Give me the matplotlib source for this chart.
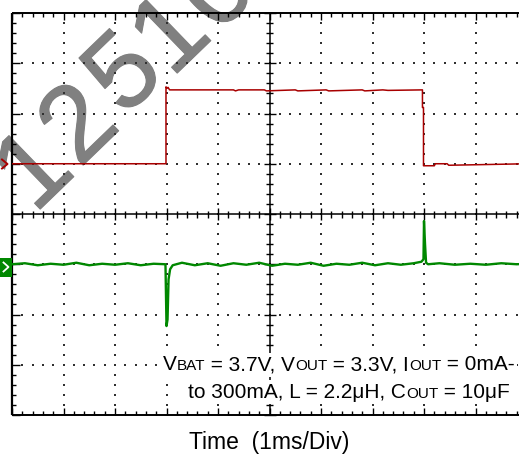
import numpy as np
import matplotlib
matplotlib.use("Agg")
import matplotlib.pyplot as plt
import matplotlib.patheffects as pe
from matplotlib.collections import LineCollection
from matplotlib.offsetbox import TextArea, HPacker, AnnotationBbox
from matplotlib.patches import Rectangle

# ---------------- data (in scope divisions) ----------------
red_t = [0.00, 2.99, 2.99, 3.01, 3.03, 3.06, 3.20, 4.30, 4.34, 4.40, 4.90, 4.94,
         5.50, 5.55, 6.10, 6.15, 6.80, 6.85, 7.20, 7.30, 7.97, 7.97, 7.99, 7.99,
         8.20, 8.22, 8.30, 8.45, 8.48, 10.00]
red_v = [1.00, 1.00, 2.53, 2.50, 2.52, 2.47, 2.47, 2.47, 2.45, 2.47, 2.47, 2.45,
         2.47, 2.45, 2.47, 2.45, 2.47, 2.45, 2.47, 2.46, 2.47, 2.12, 2.12, 0.96,
         0.96, 1.00, 1.00, 1.00, 0.97, 1.00]

green_t = [0.00, 0.25, 0.50, 0.75, 1.00, 1.25, 1.50, 1.75, 2.00, 2.25, 2.50, 2.75,
           2.98, 3.00, 3.02, 3.04, 3.07, 3.12, 3.30, 3.55, 3.80, 4.05, 4.30, 4.55,
           4.80, 5.05, 5.30, 5.55, 5.80, 6.05, 6.30, 6.55, 6.80, 7.05, 7.30, 7.55,
           7.80, 7.95, 7.99, 8.00, 8.02, 8.04, 8.08, 8.30, 8.60, 8.90, 9.20, 9.50,
           9.80, 10.00]
green_v = [-1.00, -0.98, -1.02, -0.99, -1.01, -0.97, -1.02, -0.99, -1.01, -0.98, -1.02, -0.99,
           -1.00, -2.23, -2.10, -1.30, -1.10, -1.02, -0.97, -1.02, -0.98, -1.03, -0.98, -1.01,
           -0.97, -1.03, -0.99, -1.01, -0.97, -1.03, -0.99, -1.01, -0.97, -1.02, -0.98, -1.01,
           -0.98, -0.95, -0.90, -0.14, -0.60, -0.97, -1.00, -0.98, -1.01, -0.99, -1.01, -0.98,
           -1.00, -0.99]

annot_line1 = [("V", "big"), ("BAT", "small"), (" = 3.7V, V", "big"), ("OUT", "small"),
               (" = 3.3V, I", "big"), ("OUT", "small"), (" = 0mA-", "big")]
annot_line2 = [("to 300mA, L = 2.2\u03bcH, C", "big"), ("OUT", "small"), (" = 10\u03bcF", "big")]
xlabel_text = "Time  (1ms/Div)"
watermark_chars = ["1", "2", "5", "1", "0"]

# ---------------- figure ----------------
W, H = 519, 455
FONT = "Liberation Sans"
fig = plt.figure(figsize=(W / 100, H / 100), dpi=100)
fig.patch.set_facecolor("white")
ax = fig.add_axes([12 / W, 40 / H, 515 / W, 402 / H])
ax.set_xlim(0, 10)
ax.set_ylim(-4, 4)
ax.set_axis_off()

kx = 10 / 515.0   # data units per pixel (x)
ky = 8 / 402.0    # data units per pixel (y)

# watermark (behind everything), one glyph per position along a 44 degree baseline
wm_fs = 78
wm_rot = 44
em = wm_fs * 100 / 72.0
ang = np.deg2rad(wm_rot)
up = np.array([-np.sin(ang), np.cos(ang)])          # text "up" in figure pixels (y up)
wm_centers = [(29, 166), (74, 120), (119, 69), (166, 30), (212, -14)]  # top-left pixel coords
for ch, (cx, cy) in zip(watermark_chars, wm_centers):
    c = np.array([cx, H - cy], dtype=float)
    b = c - 0.358 * em * up
    ax.text(b[0] / W, b[1] / H, ch, transform=fig.transFigure, rotation=wm_rot,
            rotation_mode="anchor", ha="center", va="baseline", fontsize=wm_fs,
            color="#808080", family=FONT, zorder=0.5, clip_on=False,
            path_effects=[pe.withStroke(linewidth=0.8, foreground="#808080")])

# grid dots
gx, gy = [], []
for xv in range(1, 10):
    if xv == 5:
        continue
    for j in range(1, 40):
        gx.append(xv); gy.append(-4 + j * 0.2)
for yv in range(-3, 4):
    if yv == 0:
        continue
    for i in range(1, 50):
        gx.append(i * 0.2); gy.append(yv)
ax.scatter(gx, gy, s=1.3, marker="s", color="#303030", linewidths=0, zorder=1)

# frame and center axes
frame_kw = dict(color="black", clip_on=False, zorder=3, solid_capstyle="butt")
ax.plot([0, 0], [-4, 4], lw=1.6, **frame_kw)
ax.plot([0, 10.2], [4, 4], lw=1.4, **frame_kw)
ax.plot([0, 10.2], [-4, -4], lw=1.4, **frame_kw)
ax.plot([5, 5], [-4, 4], lw=1.1, **frame_kw)
ax.plot([0, 10.2], [0, 0], lw=1.1, **frame_kw)

segs = []
for i in range(0, 51):
    t = i * 0.2
    major = (i % 5 == 0)
    L = (7 if major else 4) * ky
    segs.append([(t, 4), (t, 4 - L)])
    segs.append([(t, -4), (t, -4 + L)])
    Lc = (6 if major else 3.5) * ky
    segs.append([(t, -Lc), (t, Lc)])
for j in range(0, 41):
    y = -4 + j * 0.2
    major = (j % 5 == 0)
    L = (8 if major else 4) * kx
    segs.append([(0, y), (L, y)])
    Lc = (6 if major else 3.5) * kx
    segs.append([(5 - Lc, y), (5 + Lc, y)])
ax.add_collection(LineCollection(segs, colors="black", linewidths=1.0, zorder=3, clip_on=False))

# traces
ax.plot(red_t, red_v, color="#a80000", lw=1.1, zorder=4)
ax.plot(green_t, green_v, color="#008800", lw=1.7, zorder=4)

# channel markers at left
def fx(px):
    return px / W
def fy(py):
    return 1 - py / H

fig.add_artist(plt.Line2D([fx(2), fx(7.5), fx(2)], [fy(159.5), fy(164), fy(168.5)],
                          color="#a80000", lw=1.4))
fig.add_artist(Rectangle((fx(0), fy(277)), fx(12), 19 / H, facecolor="#008800",
                         edgecolor="none"))
fig.add_artist(plt.Line2D([fx(3.5), fx(8.5), fx(3.5)], [fy(262.5), fy(267), fy(271.5)],
                          color="white", lw=1.3))

# annotation
sizes = {"big": 15, "small": 11}
def rich_line(parts, xy_px):
    boxes = [TextArea(s, textprops=dict(fontsize=sizes[k], family=FONT, color="black"))
             for s, k in parts]
    pack = HPacker(children=boxes, align="baseline", pad=0, sep=0)
    ab = AnnotationBbox(pack, (xy_px[0], H - xy_px[1]), xycoords="figure pixels",
                        box_alignment=(1, 0.5), frameon=True, pad=0.15,
                        bboxprops=dict(facecolor="white", edgecolor="none"))
    ab.set_zorder(5)
    fig.add_artist(ab)

rich_line(annot_line1, (515, 365))
rich_line(annot_line2, (510, 392))

fig.text(269.5 / W, 1 - 443 / H, xlabel_text, ha="center", va="center",
         fontsize=16.5, family=FONT, color="black")

fig.savefig("out.png", dpi=100, facecolor="white")
